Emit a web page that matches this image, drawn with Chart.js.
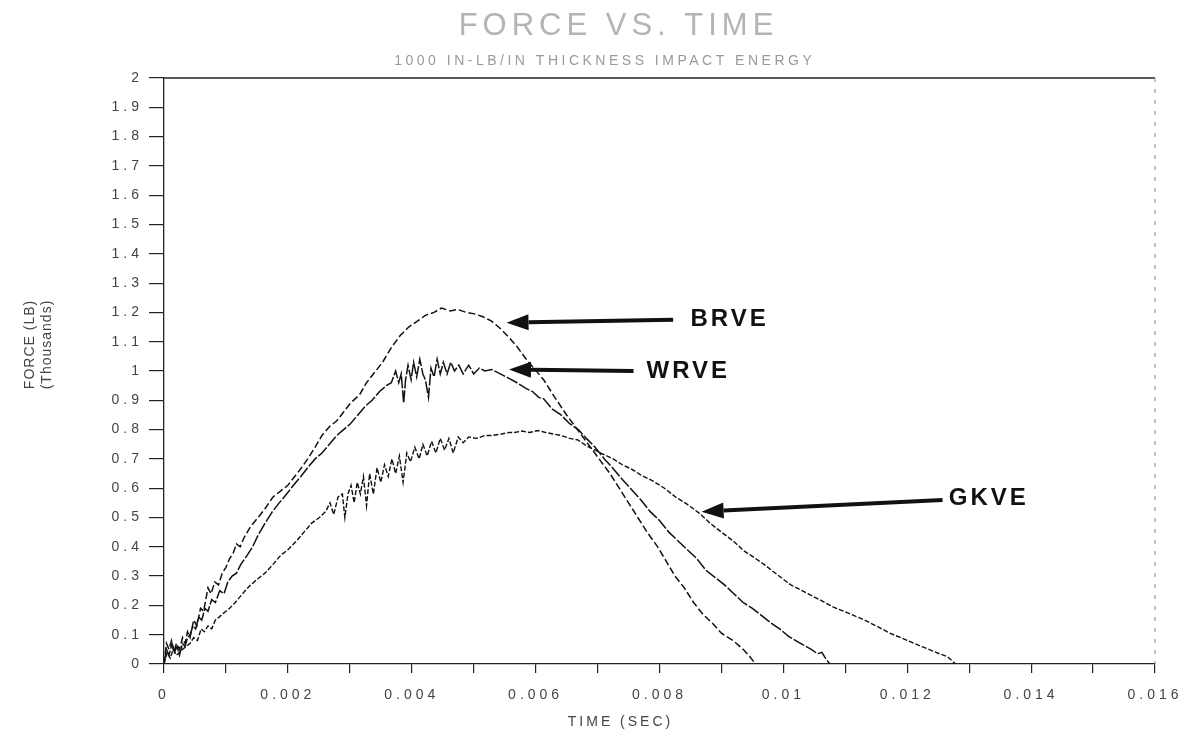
<!DOCTYPE html>
<html>
<head>
<meta charset="utf-8">
<title>Force vs. Time</title>
<script src="https://cdn.jsdelivr.net/npm/chart.js@4.4.0/dist/chart.umd.min.js"></script>
<style>
  body { margin: 0; background: #fff; }
  #wrap { width: 1194px; height: 745px; }
</style>
</head>
<body>
<div id="wrap"><canvas id="forceChart" width="1194" height="745"></canvas></div>
<script>
// force (thousands of lb) against time (s)
const brveTime = [0, 0.00004, 0.00008, 0.00012, 0.00016, 0.0002, 0.00025, 0.0003, 0.00034, 0.00038,
    0.00042, 0.00048, 0.00053, 0.00059, 0.00064, 0.00071, 0.00076, 0.00082, 0.00088, 0.00094,
    0.001, 0.00106, 0.00112, 0.00117, 0.00123, 0.00129, 0.0014, 0.00152, 0.00163, 0.00176,
    0.00188, 0.002, 0.00211, 0.00222, 0.00232, 0.00244, 0.00255, 0.00267, 0.00279, 0.0029,
    0.00301, 0.00316, 0.00327, 0.00338, 0.00353, 0.00367, 0.00381, 0.00395, 0.00409, 0.00422,
    0.00436, 0.00448, 0.00462, 0.00474, 0.00488, 0.00501, 0.00515, 0.00529, 0.00543, 0.00557,
    0.00571, 0.00585, 0.00599, 0.00613, 0.00631, 0.0065, 0.00664, 0.00678, 0.00692, 0.00706,
    0.0072, 0.00735, 0.0075, 0.00765, 0.0078, 0.00797, 0.00811, 0.00825, 0.0084, 0.00855,
    0.0087, 0.00885, 0.009, 0.00919, 0.00935, 0.00946, 0.00955];
const brveForce = [0, 0.07, 0.05, 0.08, 0.04, 0.07, 0.05, 0.09, 0.07, 0.11,
    0.09, 0.15, 0.13, 0.19, 0.18, 0.26, 0.24, 0.28, 0.27, 0.31,
    0.33, 0.36, 0.38, 0.41, 0.40, 0.43, 0.47, 0.50, 0.53, 0.57,
    0.59, 0.61, 0.64, 0.67, 0.70, 0.74, 0.78, 0.81, 0.83, 0.86,
    0.89, 0.92, 0.96, 0.99, 1.03, 1.08, 1.12, 1.15, 1.17, 1.19,
    1.20, 1.215, 1.205, 1.21, 1.20, 1.195, 1.185, 1.17, 1.145, 1.115,
    1.08, 1.04, 1.005, 0.97, 0.91, 0.85, 0.81, 0.77, 0.73, 0.69,
    0.65, 0.60, 0.55, 0.50, 0.45, 0.40, 0.35, 0.30, 0.26, 0.21,
    0.17, 0.14, 0.105, 0.08, 0.05, 0.025, 0];

const wrveTime = [0, 0.00004, 0.00008, 0.00013, 0.00017, 0.00021, 0.00025, 0.0003, 0.00034, 0.00038,
    0.00042, 0.00047, 0.00051, 0.00056, 0.00061, 0.00066, 0.00071, 0.00077, 0.00083, 0.0009,
    0.00097, 0.00103, 0.0011, 0.00117, 0.00124, 0.00134, 0.00143, 0.00152, 0.00163, 0.00175,
    0.00186, 0.00198, 0.00209, 0.00221, 0.00232, 0.00244, 0.00255, 0.00267, 0.00279, 0.0029,
    0.00301, 0.00313, 0.00325, 0.00336, 0.00348, 0.00359, 0.00367, 0.00374, 0.00379, 0.00383,
    0.00387, 0.0039, 0.00394, 0.00399, 0.00403, 0.00408, 0.00413, 0.00418, 0.00422, 0.00427,
    0.00431, 0.00436, 0.00441, 0.00446, 0.00451, 0.00457, 0.00463, 0.00469, 0.00476, 0.00483,
    0.00492, 0.005, 0.00509, 0.00518, 0.00529, 0.00543, 0.00557, 0.0057, 0.00585, 0.00595,
    0.00605, 0.00613, 0.00627, 0.00641, 0.00655, 0.00669, 0.00682, 0.00696, 0.00711, 0.00724,
    0.0074, 0.00755, 0.0077, 0.00785, 0.008, 0.00815, 0.0083, 0.00845, 0.0086, 0.00875,
    0.0089, 0.00905, 0.0092, 0.00935, 0.0095, 0.00965, 0.0098, 0.00994, 0.01008, 0.0102,
    0.01032, 0.01045, 0.01055, 0.01062, 0.01068, 0.01075];
const wrveForce = [0, 0.05, 0.03, 0.07, 0.04, 0.06, 0.03, 0.07, 0.06, 0.09,
    0.10, 0.13, 0.12, 0.16, 0.15, 0.19, 0.18, 0.22, 0.21, 0.25,
    0.24, 0.28, 0.30, 0.31, 0.34, 0.37, 0.40, 0.44, 0.48, 0.52,
    0.55, 0.58, 0.61, 0.64, 0.67, 0.70, 0.72, 0.75, 0.78, 0.80,
    0.82, 0.85, 0.88, 0.90, 0.93, 0.95, 0.96, 1.00, 0.96, 0.99,
    0.89, 0.97, 1.02, 0.97, 1.03, 0.98, 1.04, 0.99, 0.97, 0.91,
    1.01, 0.98, 1.04, 0.99, 1.03, 0.99, 1.03, 1.00, 1.02, 0.99,
    1.02, 0.99, 1.01, 1.00, 1.005, 0.99, 0.975, 0.96, 0.94, 0.93,
    0.91, 0.905, 0.87, 0.85, 0.82, 0.80, 0.77, 0.74, 0.70, 0.67,
    0.63, 0.595, 0.56, 0.52, 0.49, 0.45, 0.42, 0.39, 0.36, 0.32,
    0.295, 0.27, 0.24, 0.21, 0.19, 0.165, 0.14, 0.12, 0.095, 0.08,
    0.065, 0.05, 0.035, 0.04, 0.02, 0];

const gkveTime = [0, 0.00005, 0.0001, 0.00015, 0.0002, 0.00025, 0.0003, 0.00036, 0.00042, 0.00048,
    0.00054, 0.0006, 0.00065, 0.00071, 0.00077, 0.00083, 0.00089, 0.00094, 0.001, 0.00106,
    0.00115, 0.00123, 0.00131, 0.0014, 0.00151, 0.00163, 0.00176, 0.00188, 0.002, 0.00214,
    0.00226, 0.00238, 0.00251, 0.00261, 0.00268, 0.00274, 0.00281, 0.00288, 0.00292, 0.00297,
    0.00302, 0.00307, 0.00312, 0.00317, 0.00322, 0.00327, 0.00332, 0.00338, 0.00344, 0.0035,
    0.00356, 0.00362, 0.00368, 0.00374, 0.0038, 0.00386, 0.00392, 0.00398, 0.00405, 0.00412,
    0.00418, 0.00425, 0.00432, 0.00439, 0.00446, 0.00453, 0.0046, 0.00467, 0.00475, 0.00483,
    0.00492, 0.00505, 0.00518, 0.00529, 0.00545, 0.00557, 0.00566, 0.00578, 0.0059, 0.00604,
    0.00616, 0.00629, 0.00641, 0.00655, 0.00668, 0.00682, 0.00696, 0.0071, 0.00725, 0.0074,
    0.00755, 0.0077, 0.00789, 0.00808, 0.00826, 0.00845, 0.00864, 0.00882, 0.009, 0.00919,
    0.00937, 0.00955, 0.00972, 0.0099, 0.01012, 0.01035, 0.01058, 0.0108, 0.01103, 0.01126,
    0.0115, 0.01172, 0.01195, 0.01217, 0.01235, 0.01252, 0.01265, 0.01278];
const gkveForce = [0, 0.04, 0.02, 0.05, 0.03, 0.04, 0.05, 0.06, 0.07, 0.09,
    0.08, 0.12, 0.11, 0.13, 0.12, 0.15, 0.16, 0.17, 0.18, 0.19,
    0.21, 0.23, 0.25, 0.27, 0.29, 0.31, 0.34, 0.37, 0.39, 0.42,
    0.45, 0.48, 0.50, 0.52, 0.55, 0.51, 0.57, 0.58, 0.50, 0.58,
    0.61, 0.55, 0.62, 0.58, 0.64, 0.54, 0.65, 0.58, 0.67, 0.62,
    0.68, 0.64, 0.70, 0.65, 0.71, 0.62, 0.72, 0.69, 0.74, 0.70,
    0.75, 0.71, 0.76, 0.72, 0.77, 0.73, 0.77, 0.72, 0.775, 0.755,
    0.775, 0.77, 0.78, 0.78, 0.785, 0.79, 0.79, 0.795, 0.79, 0.797,
    0.79, 0.785, 0.78, 0.77, 0.765, 0.745, 0.73, 0.715, 0.70, 0.68,
    0.665, 0.645, 0.625, 0.60, 0.57, 0.545, 0.515, 0.48, 0.45, 0.42,
    0.385, 0.36, 0.335, 0.305, 0.27, 0.245, 0.22, 0.195, 0.175, 0.155,
    0.13, 0.105, 0.085, 0.065, 0.05, 0.035, 0.025, 0];

// arrow callouts, anchored in data units
const calloutNames = ['BRVE', 'WRVE', 'GKVE'];
const calloutTipTime = [0.00553, 0.00557, 0.00868];
const calloutTipForce = [1.165, 1.005, 0.52];
const calloutTailTime = [0.00822, 0.00758, 0.01257];
const calloutTailForce = [1.175, 1.0, 0.56];
const calloutTextTime = [0.0085, 0.00779, 0.01267];
const calloutTextForce = [1.175, 1.0, 0.566];

const FONT = '"Liberation Sans", Arial, sans-serif';
Chart.defaults.font.family = FONT;

const toPoints = (times, forces) => times.map((t, i) => ({ x: t, y: forces[i] }));

function spacedText(ctx, text, x, y, spacing, align) {
    ctx.letterSpacing = spacing + 'px';
    ctx.textAlign = 'left';
    const w = ctx.measureText(text).width - spacing;
    let startX = x;
    if (align === 'center') startX = x - w / 2;
    ctx.fillText(text, startX, y);
}

const frameAndText = {
    id: 'frameAndText',
    beforeDraw(chart) {
        // scanned tick labels are widely spaced
        chart.ctx.letterSpacing = '4px';
    },
    beforeDatasetsDraw(chart) {
        chart.ctx.letterSpacing = '0px';
    },
    afterDraw(chart) {
        const ctx = chart.ctx;
        const area = chart.chartArea;
        const xs = chart.scales.x;
        const ys = chart.scales.y;
        ctx.save();

        // top frame line and faint dotted right edge
        ctx.strokeStyle = '#222';
        ctx.lineWidth = 1.3;
        ctx.beginPath();
        ctx.moveTo(area.left, area.top);
        ctx.lineTo(area.right, area.top);
        ctx.stroke();
        ctx.strokeStyle = '#888';
        ctx.lineWidth = 1;
        ctx.setLineDash([4, 7]);
        ctx.beginPath();
        ctx.moveTo(area.right, area.top);
        ctx.lineTo(area.right, area.bottom);
        ctx.stroke();
        ctx.setLineDash([]);

        // titles
        ctx.textBaseline = 'alphabetic';
        ctx.fillStyle = '#b4b4b4';
        ctx.font = '31px ' + FONT;
        spacedText(ctx, 'FORCE VS. TIME', 616, 35, 5, 'center');
        ctx.fillStyle = '#9a9a9a';
        ctx.font = '14px ' + FONT;
        spacedText(ctx, '1000 IN-LB/IN THICKNESS IMPACT ENERGY', 603, 65, 3.5, 'center');

        // axis titles
        ctx.fillStyle = '#444';
        ctx.textBaseline = 'middle';
        ctx.font = '14px ' + FONT;
        spacedText(ctx, 'TIME (SEC)', 619, 722, 3, 'center');
        ctx.save();
        ctx.translate(30, 345);
        ctx.rotate(-Math.PI / 2);
        spacedText(ctx, 'FORCE (LB)', 0, 0, 1, 'center');
        ctx.restore();
        ctx.save();
        ctx.translate(47, 345);
        ctx.rotate(-Math.PI / 2);
        spacedText(ctx, '(Thousands)', 0, 0, 1, 'center');
        ctx.restore();

        // arrows and series names
        ctx.fillStyle = '#111';
        ctx.strokeStyle = '#111';
        calloutNames.forEach((name, i) => {
            const tipX = xs.getPixelForValue(calloutTipTime[i]);
            const tipY = ys.getPixelForValue(calloutTipForce[i]);
            const tailX = xs.getPixelForValue(calloutTailTime[i]);
            const tailY = ys.getPixelForValue(calloutTailForce[i]);
            const ang = Math.atan2(tipY - tailY, tipX - tailX);
            const headLen = 22, halfW = 8;
            const baseX = tipX - headLen * Math.cos(ang);
            const baseY = tipY - headLen * Math.sin(ang);
            ctx.lineWidth = 4;
            ctx.beginPath();
            ctx.moveTo(tailX, tailY);
            ctx.lineTo(baseX, baseY);
            ctx.stroke();
            ctx.beginPath();
            ctx.moveTo(tipX, tipY);
            ctx.lineTo(baseX + halfW * Math.sin(ang), baseY - halfW * Math.cos(ang));
            ctx.lineTo(baseX - halfW * Math.sin(ang), baseY + halfW * Math.cos(ang));
            ctx.closePath();
            ctx.fill();

            ctx.font = 'bold 24px ' + FONT;
            ctx.textBaseline = 'middle';
            spacedText(ctx, name, xs.getPixelForValue(calloutTextTime[i]),
                ys.getPixelForValue(calloutTextForce[i]), 3, 'left');
        });
        ctx.restore();
    }
};

function lineSet(label, times, forces, dash, width) {
    return {
        label: label,
        data: toPoints(times, forces),
        borderColor: '#111',
        borderWidth: width,
        borderDash: dash,
        pointRadius: 0,
        tension: 0,
        fill: false
    };
}

const ctx = document.getElementById('forceChart').getContext('2d');
new Chart(ctx, {
    type: 'line',
    data: {
        datasets: [
            lineSet('BRVE', brveTime, brveForce, [7, 3], 1.5),
            lineSet('WRVE', wrveTime, wrveForce, [12, 2], 1.5),
            lineSet('GKVE', gkveTime, gkveForce, [5, 2], 1.4)
        ]
    },
    options: {
        responsive: false,
        animation: false,
        devicePixelRatio: 1,
        layout: { padding: { top: 78, right: 39, bottom: 0, left: 0 } },
        plugins: {
            legend: { display: false },
            tooltip: { enabled: false }
        },
        scales: {
            x: {
                type: 'linear',
                min: 0,
                max: 0.016,
                afterFit(scale) { scale.height = 81; },
                ticks: {
                    stepSize: 0.001,
                    autoSkip: false,
                    maxRotation: 0,
                    padding: 14,
                    color: '#444',
                    font: { size: 14 },
                    callback: v => Math.round(v * 1000) % 2 === 0 ? String(Number(v.toFixed(3))) : ''
                },
                grid: { drawOnChartArea: false, tickLength: 9, color: '#222', lineWidth: 1.2 },
                border: { color: '#222', width: 1.3 }
            },
            y: {
                min: 0,
                max: 2,
                afterFit(scale) { scale.width = 164; },
                ticks: {
                    stepSize: 0.1,
                    autoSkip: false,
                    padding: 6,
                    color: '#444',
                    font: { size: 14 },
                    callback: v => String(Number(v.toFixed(1)))
                },
                grid: { drawOnChartArea: false, tickLength: 15, color: '#222', lineWidth: 1.2 },
                border: { color: '#222', width: 1.3 }
            }
        }
    },
    plugins: [frameAndText]
});
</script>
</body>
</html>
